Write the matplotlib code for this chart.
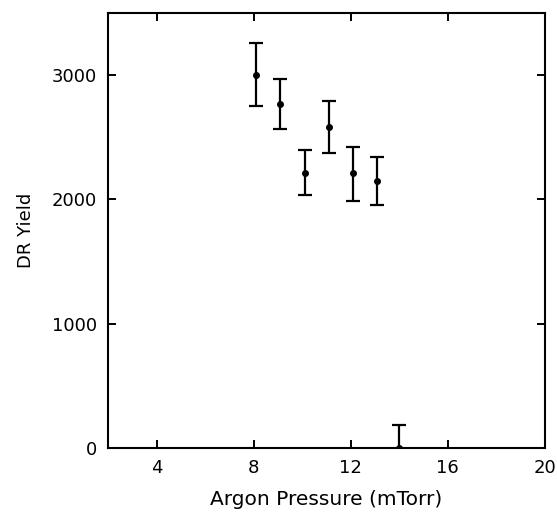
import numpy as np
import matplotlib
matplotlib.use("Agg")
import matplotlib.pyplot as plt

# values
pressure = [8.1, 9.1, 10.1, 11.1, 12.1, 13.1, 14.0]
dr_yield = [3000, 2770, 2215, 2580, 2210, 2150, 0]
err_low = [250, 200, 180, 210, 220, 195, 190]
err_high = [255, 200, 180, 210, 215, 190, 190]

xticks = [4, 8, 12, 16, 20]
yticks = [0, 1000, 2000, 3000]

plt.rcParams['font.family'] = ['DejaVu Sans']

fig = plt.figure(figsize=(5.57, 5.14), dpi=100)
ax = fig.add_axes([0.194, 0.128, 0.784, 0.847])

ax.errorbar(pressure, dr_yield, yerr=[err_low, err_high], fmt='o', color='black',
            markersize=4, elinewidth=1.6, capsize=5, capthick=1.6)

ax.set_xlim(2, 20)
ax.set_ylim(0, 3500)
ax.set_xticks(xticks)
ax.set_yticks(yticks)
ax.tick_params(direction='in', length=6, width=1.4, top=True, right=True,
               labelsize=13, pad=8)
for s in ax.spines.values():
    s.set_linewidth(1.5)

ax.set_xlabel('Argon Pressure (mTorr)', fontsize=14.5, labelpad=9)
ax.set_ylabel('DR Yield', fontsize=13, labelpad=12)

fig.savefig('out.png', dpi=100)
